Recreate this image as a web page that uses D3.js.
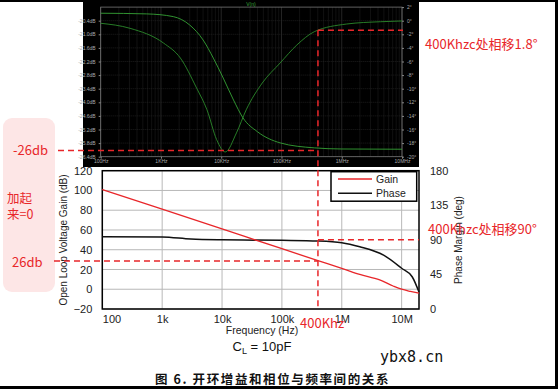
<!DOCTYPE html>
<html>
<head>
<meta charset="utf-8">
<script src="https://cdn.jsdelivr.net/npm/d3@7"></script>
<style>
  body { margin: 0; background: #fff; }
  svg { display: block; }
</style>
</head>
<body>
<div id="chart"></div>
<script>
// top (simulator) panel data
var simGainFreq = [100, 580, 1600, 3000, 5000, 7400, 10800, 16000, 23000, 40000, 95000, 350000, 1e6, 1e7];
var simGainDb = [-20.07, -20.10, -20.22, -20.59, -21.25, -22.05, -22.93, -23.90, -24.69, -25.30, -25.79, -26.01, -26.06, -26.07];
var simPhaseFreq = [100, 307, 1100, 2100, 3900, 5800, 8400, 11700, 17900, 26000, 48000, 95000, 180000, 350000, 1.2e6, 4.4e6, 1e7];
var simPhaseDeg = [-0.38, -1.12, -3.28, -5.49, -9.9, -13.1, -17.5, -19.3, -16.5, -13.1, -9.16, -6.22, -3.57, -1.62, -0.49, -0.15, -0.04];
var simDbTicks = [-20.4, -21.0, -21.6, -22.2, -22.8, -23.4, -24.0, -24.6, -25.2, -25.8, -26.4];
var simDegTicks = [2, 0, -2, -4, -6, -8, -10, -12, -14, -16, -18, -20];
var simFreqTicks = [100, 1e3, 1e4, 1e5, 1e6, 1e7];
var simFreqLabels = ['100Hz', '1KHz', '10KHz', '100KHz', '1MHz', '10MHz'];

// bottom (datasheet) panel data
var gainFreq = [100, 1000, 10000, 100000, 400000, 1e6, 2e6, 4.3e6, 7.2e6, 1e7, 1.4e7, 1.95e7];
var gainDb = [101, 81, 61, 41, 29, 21.2, 15, 9.4, 3.3, 0, -2.2, -4];
var phaseFreq = [100, 1000, 3000, 10000, 100000, 400000, 1e6, 2e6, 5e6, 1e7, 1.5e7, 1.95e7];
var phaseDeg = [94, 93.7, 91, 90, 89.4, 88.5, 86.3, 81, 70, 53, 42, 22];
var gainTicks = [-20, 0, 20, 40, 60, 80, 100, 120];
var phaseTicks = [0, 45, 90, 135, 180];
var freqTicks = [100, 1e3, 1e4, 1e5, 1e6, 1e7];
var freqLabels = ['100', '1k', '10k', '100k', '1M', '10M'];

var W = 558, H = 389;
var red = '#e8262a';
var latin = 'Liberation Sans, Arial, sans-serif';
var cjk = '"Noto Sans CJK SC", sans-serif';

var svg = d3.select('#chart').append('svg')
  .attr('width', W).attr('height', H);

// ---------- top dark panel ----------
svg.append('rect').attr('x', 83).attr('y', 0).attr('width', 336).attr('height', 167).attr('fill', '#000');

var sx = d3.scaleLog().domain([100, 1e7]).range([100.7, 402]);
var sy = d3.scaleLinear().domain([-19.8, -26.4]).range([7.1, 156.7]);
var sp = d3.scaleLinear().domain([2, -20]).range([7.1, 156.7]);

var topG = svg.append('g');

// minor log grid
var minor = [];
for (var d = 100; d < 1e7; d *= 10) for (var k = 2; k < 10; k++) minor.push(d * k);
topG.selectAll('.minor').data(minor).enter().append('line')
  .attr('x1', sx).attr('x2', sx).attr('y1', 7.1).attr('y2', 156.7)
  .attr('stroke', '#1c1c1c').attr('stroke-width', 0.6);
topG.selectAll('.vmaj').data(simFreqTicks).enter().append('line')
  .attr('x1', sx).attr('x2', sx).attr('y1', 7.1).attr('y2', 156.7)
  .attr('stroke', '#333').attr('stroke-width', 0.7);
topG.selectAll('.hgrid').data(simDbTicks).enter().append('line')
  .attr('x1', 100.7).attr('x2', 402).attr('y1', sy).attr('y2', sy)
  .attr('stroke', '#2a2a2a').attr('stroke-width', 0.7).attr('stroke-dasharray', '1,1');
topG.append('rect').attr('x', 100.7).attr('y', 7.1).attr('width', 301.3).attr('height', 149.6)
  .attr('fill', 'none').attr('stroke', '#777').attr('stroke-width', 0.8);

var axL = topG.append('g').attr('transform', 'translate(100.7,0)')
  .call(d3.axisLeft(sy).tickValues(simDbTicks).tickSize(2).tickFormat(function(v){ return v.toFixed(1) + 'dB'; }));
var axR = topG.append('g').attr('transform', 'translate(402,0)')
  .call(d3.axisRight(sp).tickValues(simDegTicks).tickSize(2).tickFormat(function(v){ return v + '°'; }));
var axB = topG.append('g').attr('transform', 'translate(0,156.7)')
  .call(d3.axisBottom(sx).tickValues(simFreqTicks).tickSize(2).tickFormat(function(v, i){ return simFreqLabels[i]; }));
[axL, axR, axB].forEach(function(a){
  a.select('.domain').remove();
  a.selectAll('line').attr('stroke', '#888');
  a.selectAll('text').attr('fill', '#aaa').attr('font-size', 5).attr('font-family', latin);
});
axB.selectAll('text').attr('dy', '0.3em');

topG.append('text').attr('x', 251).attr('y', 6).attr('text-anchor', 'middle')
  .attr('fill', '#3aa83a').attr('font-size', 5).attr('font-family', latin).text('V(n)');

var simGain = simGainFreq.map(function(f, i){ return [f, simGainDb[i]]; });
var simPhase = simPhaseFreq.map(function(f, i){ return [f, simPhaseDeg[i]]; });
topG.append('path').datum(simGain)
  .attr('d', d3.line().x(function(d){ return sx(d[0]); }).y(function(d){ return sy(d[1]); }).curve(d3.curveMonotoneX))
  .attr('fill', 'none').attr('stroke', '#36a336').attr('stroke-width', 0.9);
topG.append('path').datum(simPhase)
  .attr('d', d3.line().x(function(d){ return sx(d[0]); }).y(function(d){ return sp(d[1]); }).curve(d3.curveMonotoneX))
  .attr('fill', 'none').attr('stroke', '#2b8a2b').attr('stroke-width', 0.9);

// ---------- bottom datasheet chart ----------
var bx = d3.scaleLog().domain([100, 1.95e7]).range([102.3, 419]);
var by = d3.scaleLinear().domain([-20, 120]).range([309, 170.7]);
var bp = d3.scaleLinear().domain([0, 180]).range([309, 170.7]);

var bot = svg.append('g');
bot.selectAll('.bv').data(freqTicks).enter().append('line')
  .attr('x1', bx).attr('x2', bx).attr('y1', 170.7).attr('y2', 309)
  .attr('stroke', '#b8b8b8').attr('stroke-width', 1);
bot.selectAll('.bh').data(gainTicks).enter().append('line')
  .attr('x1', 102.3).attr('x2', 419).attr('y1', by).attr('y2', by)
  .attr('stroke', '#b8b8b8').attr('stroke-width', 1);
bot.append('rect').attr('x', 102.3).attr('y', 170.7).attr('width', 316.7).attr('height', 138.3)
  .attr('fill', 'none').attr('stroke', '#000').attr('stroke-width', 1.5);

var bL = bot.append('g').attr('transform', 'translate(102.3,0)')
  .call(d3.axisLeft(by).tickValues(gainTicks).tickSize(0).tickPadding(10)
    .tickFormat(function(v){ return v < 0 ? '\u2212' + (-v) : v; }));
var bR = bot.append('g').attr('transform', 'translate(419,0)')
  .call(d3.axisRight(bp).tickValues(phaseTicks).tickSize(0).tickPadding(11));
var bB = bot.append('g').attr('transform', 'translate(0,309)')
  .call(d3.axisBottom(bx).tickValues(freqTicks).tickSize(0).tickPadding(6)
    .tickFormat(function(v, i){ return freqLabels[i]; }));
[bL, bR, bB].forEach(function(a){
  a.select('.domain').remove();
  a.selectAll('text').attr('fill', '#222').attr('font-size', 11).attr('font-family', latin);
});
bB.selectAll('text').filter(function(v){ return v === 100; }).attr('text-anchor', 'start');

var bGain = gainFreq.map(function(f, i){ return [f, gainDb[i]]; });
var bPhase = phaseFreq.map(function(f, i){ return [f, phaseDeg[i]]; });
bot.append('path').datum(bPhase)
  .attr('d', d3.line().x(function(d){ return bx(d[0]); }).y(function(d){ return bp(d[1]); }).curve(d3.curveMonotoneX))
  .attr('fill', 'none').attr('stroke', '#111').attr('stroke-width', 1.5);
bot.append('path').datum(bGain)
  .attr('d', d3.line().x(function(d){ return bx(d[0]); }).y(function(d){ return by(d[1]); }).curve(d3.curveMonotoneX))
  .attr('fill', 'none').attr('stroke', red).attr('stroke-width', 1.3);

// legend
var lg = bot.append('g');
lg.append('rect').attr('x', 331).attr('y', 171.7).attr('width', 85.7).attr('height', 29.5)
  .attr('fill', '#fff').attr('stroke', '#000').attr('stroke-width', 1.5);
[['Gain', red], ['Phase', '#111']].forEach(function(s, i){
  var yy = 179 + i * 14.3;
  lg.append('line').attr('x1', 338).attr('x2', 372).attr('y1', yy).attr('y2', yy)
    .attr('stroke', s[1]).attr('stroke-width', 1.4);
  lg.append('text').attr('x', 376).attr('y', yy + 3.5).attr('font-size', 10.5)
    .attr('font-family', latin).attr('fill', '#222').text(s[0]);
});

// axis titles
svg.append('text').attr('transform', 'translate(67,240) rotate(-90)').attr('text-anchor', 'middle')
  .attr('font-size', 10).attr('font-family', latin).attr('fill', '#222').text('Open Loop Voltage Gain (dB)');
svg.append('text').attr('transform', 'translate(462,240) rotate(-90)').attr('text-anchor', 'middle')
  .attr('font-size', 10).attr('font-family', latin).attr('fill', '#222').text('Phase Margin (deg)');
svg.append('text').attr('x', 262).attr('y', 334).attr('text-anchor', 'middle')
  .attr('font-size', 10.5).attr('font-family', latin).attr('fill', '#222').text('Frequency (Hz)');
var cl = svg.append('text').attr('x', 262).attr('y', 351).attr('text-anchor', 'middle')
  .attr('font-size', 13).attr('font-family', latin).attr('fill', '#111');
cl.append('tspan').text('C');
cl.append('tspan').attr('font-size', 9).attr('dy', 3).text('L');
cl.append('tspan').attr('dy', -3).text(' = 10pF');

svg.append('text').attr('x', 380).attr('y', 362).attr('font-size', 15)
  .attr('font-family', 'DejaVu Sans Mono, monospace').attr('fill', '#111').text('ybx8.cn');
svg.append('text').attr('x', 155).attr('y', 384).attr('font-size', 12.5).attr('font-weight', 'bold')
  .attr('letter-spacing', 1.6)
  .attr('font-family', cjk).attr('fill', '#111').text('图 6. 开环增益和相位与频率间的关系');

// ---------- annotations ----------
var ann = svg.append('g');
ann.append('rect').attr('x', 3).attr('y', 118).attr('width', 52).attr('height', 174).attr('rx', 9)
  .attr('fill', '#fde6e6');

var dash = '6,4';
var x400 = bx(4e5);
ann.append('line').attr('x1', x400).attr('x2', x400).attr('y1', sp(-1.4)).attr('y2', 308)
  .attr('stroke', red).attr('stroke-width', 1.5).attr('stroke-dasharray', dash);
ann.append('line').attr('x1', x400).attr('x2', 403).attr('y1', sp(-1.4)).attr('y2', sp(-1.4))
  .attr('stroke', red).attr('stroke-width', 1.5).attr('stroke-dasharray', dash);
ann.append('line').attr('x1', 58).attr('x2', x400).attr('y1', sy(-26.13)).attr('y2', sy(-26.13))
  .attr('stroke', red).attr('stroke-width', 1.5).attr('stroke-dasharray', dash);
ann.append('line').attr('x1', 54).attr('x2', x400).attr('y1', by(28.6)).attr('y2', by(28.6))
  .attr('stroke', red).attr('stroke-width', 1.5).attr('stroke-dasharray', dash);
ann.append('line').attr('x1', x400).attr('x2', 419).attr('y1', bp(90)).attr('y2', bp(90))
  .attr('stroke', red).attr('stroke-width', 1.5).attr('stroke-dasharray', dash);

function note(x, y, s, fs){
  ann.append('text').attr('x', x).attr('y', y).attr('font-size', fs || 13)
    .attr('font-family', cjk).attr('fill', red).text(s);
}
note(13, 155, '-26db');
note(7, 203, '加起', 12.5);
note(7, 219, '来=0', 12.5);
note(12, 267, '26db');
note(300, 328, '400Khz');
note(425, 49, '400Khzc处相移1.8°');
note(428, 234, '400Khzc处相移90°');

// outer frame
svg.append('rect').attr('x', 0).attr('y', 0).attr('width', W).attr('height', 2).attr('fill', '#000');
svg.append('rect').attr('x', 555).attr('y', 0).attr('width', 3).attr('height', H).attr('fill', '#000');
svg.append('rect').attr('x', 0).attr('y', 386).attr('width', W).attr('height', 3).attr('fill', '#000');
</script>
</body>
</html>
